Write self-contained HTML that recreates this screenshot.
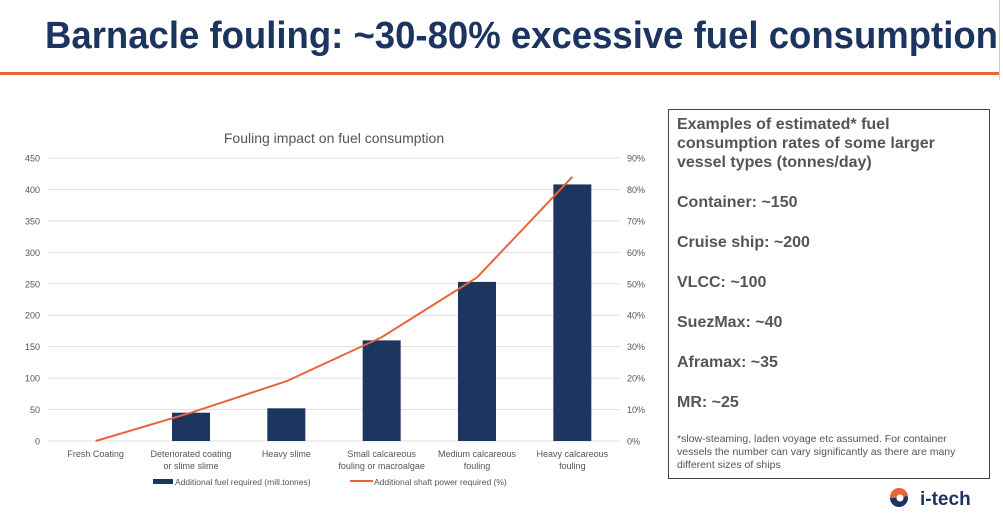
<!DOCTYPE html>
<html><head><meta charset="utf-8">
<style>
body{margin:0;width:1003px;height:517px;background:#fff;overflow:hidden;position:relative;font-family:"Liberation Sans",sans-serif}
.box{position:absolute;left:668px;top:109px;width:322px;height:370px;border:1.5px solid #444;box-sizing:border-box}
.bt{position:absolute;left:677px;font-weight:bold;font-size:16px;color:#555;white-space:nowrap}
.fn{position:absolute;left:677px;top:433px;font-size:10.5px;color:#555;line-height:13px;width:292px}
</style></head><body>
<svg style="position:absolute;left:0;top:0" width="1003" height="80">
<text x="45" y="48" font-family="Liberation Sans, sans-serif" font-weight="bold" font-size="38" fill="#1c3560" textLength="953" lengthAdjust="spacingAndGlyphs">Barnacle fouling: ~30-80% excessive fuel consumption</text>
<rect x="0" y="72" width="1000" height="3" fill="#e8643a"/>
<rect x="999" y="0" width="1" height="80" fill="#ccc"/>
</svg>
<svg id="chart" style="position:absolute;left:0;top:110" width="660" height="395"></svg>
<div class="box"></div>
<div class="bt" style="top:115px;line-height:19px">Examples of estimated* fuel<br>consumption rates of some larger<br>vessel types (tonnes/day)</div>
<div class="bt" style="top:194px">Container: ~150</div>
<div class="bt" style="top:234px">Cruise ship: ~200</div>
<div class="bt" style="top:274px">VLCC: ~100</div>
<div class="bt" style="top:314px">SuezMax: ~40</div>
<div class="bt" style="top:354px">Aframax: ~35</div>
<div class="bt" style="top:394px">MR: ~25</div>
<div class="fn">*slow-steaming, laden voyage etc assumed. For container vessels the number can vary significantly as there are many different sizes of ships</div>
<svg style="position:absolute;left:885px;top:485px" width="110" height="28">
<circle cx="14" cy="13" r="9" fill="#1c3560"/>
<path d="M5 13 A9 9 0 0 1 23 11 L14 13 Z" fill="#e8643a"/>
<circle cx="15" cy="13" r="3.5" fill="#fff"/>
<text x="35" y="20" font-family="Liberation Sans, sans-serif" font-weight="bold" font-size="19" fill="#1c3560">i-tech</text>
</svg>
<script>
const categories=[["Fresh Coating"],["Deteriorated coating","or slime slime"],["Heavy slime"],["Small  calcareous","fouling or macroalgae"],["Medium calcareous","fouling"],["Heavy calcareous","fouling"]];
const fuelValues=[0,45,52,160,253,408];
const powerValues=[0,9,19,33,52,84];
const leftTicks=[0,50,100,150,200,250,300,350,400,450];
const rightTicks=[0,10,20,30,40,50,60,70,80,90];
const NS="http://www.w3.org/2000/svg";
const svg=document.getElementById('chart');
const X0=48,X1=620,Y0=331,Y1=48;
const band=(X1-X0)/categories.length;
const xc=i=>X0+band*(i+0.5);
const yL=v=>Y0-(v/450)*(Y0-Y1);
const yR=v=>Y0-(v/90)*(Y0-Y1);
function mk(t,a,txt){const e=document.createElementNS(NS,t);for(const k in a)e.setAttribute(k,a[k]);if(txt!==undefined)e.textContent=txt;svg.appendChild(e);return e;}
let t=mk('text',{x:334,y:33,'text-anchor':'middle','font-size':14,fill:'#555','font-family':'Liberation Sans, sans-serif'},'Fouling impact on fuel consumption');


leftTicks.forEach(v=>{
 const g=mk('line',{x1:X0,x2:X1,y1:yL(v),y2:yL(v),stroke:'#e0e0e0','stroke-width':1});
 
 
 const l=mk('text',{x:40,y:yL(v)+3.5,'text-anchor':'end','font-size':9,fill:'#555','font-family':'Liberation Sans, sans-serif'},v);
 
 
});
rightTicks.forEach(v=>{
 const l=mk('text',{x:627,y:yR(v)+3.5,'font-size':9,fill:'#555','font-family':'Liberation Sans, sans-serif'},v+'%');
 
 
});
fuelValues.forEach((v,i)=>{
 if(v<=0)return;
 const b=mk('rect',{x:xc(i)-19,y:yL(v),width:38,height:Y0-yL(v),fill:'#1c3660'});
 
 
});
const pts=powerValues.map((v,i)=>xc(i)+','+yR(v)).join(' ');
const ln=mk('polyline',{points:pts,fill:'none',stroke:'#e8643a','stroke-width':2});


categories.forEach((c,i)=>{
 c.forEach((s,j)=>{
  const l=mk('text',{x:xc(i),y:347+j*12,'text-anchor':'middle','font-size':9,fill:'#555','font-family':'Liberation Sans, sans-serif'},s);
  
  
 });
});
const s1=mk('rect',{x:153,y:369,width:20,height:5,fill:'#1c3660'});


const l1=mk('text',{x:175,y:375,'font-size':8.5,fill:'#555','font-family':'Liberation Sans, sans-serif'},'Additional fuel required (mill.tonnes)');


const s2=mk('rect',{x:350,y:370,width:23,height:2,fill:'#e8643a'});


const l2=mk('text',{x:374,y:375,'font-size':8.5,fill:'#555','font-family':'Liberation Sans, sans-serif'},'Additional shaft power required (%)');


</script>
</body></html>
